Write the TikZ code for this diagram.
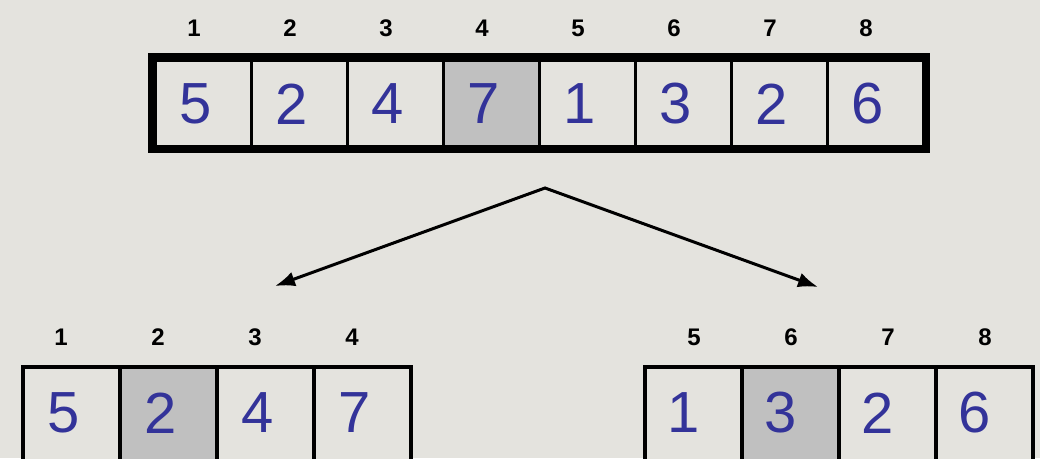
\documentclass[tikz,border=0pt]{standalone}
\usepackage{fontspec}
\setmainfont{Liberation Sans}
\usetikzlibrary{arrows.meta}
\definecolor{paper}{RGB}{228,227,222}
\definecolor{numblue}{RGB}{51,51,153}
\definecolor{pivot}{RGB}{192,192,192}
\begin{document}
\begin{tikzpicture}[x=1pt, y=-1pt,
    cell/.style={draw, inner sep=0pt, outer sep=0pt},
    val/.style={text=numblue, font=\fontsize{58}{58}\selectfont},
    idx/.style={font=\bfseries\fontsize{24}{24}\selectfont},
    split/.style={line width=3pt, {Latex[length=20pt,width=15pt]}-{Latex[length=20pt,width=15pt]}}]
      \useasboundingbox[fill=paper] (0,0) rectangle (1040,458);
      \clip (0,0) rectangle (1040,458);

      % whole array
      \foreach \v/\f [count=\i] in {5/paper,2/paper,4/paper,7/pivot,1/paper,3/paper,2/paper,6/paper} {
          \node[cell, fill=\f, line width=3pt, minimum width=96pt, minimum height=86pt] (t\i) at (107+96*\i,103) {};
          \node[val] (tv\i) at (100+96*\i,104) {\v};
          \node[idx] (ti\i) at (98+96*\i,28) {\i};
        }
      \draw[line width=7pt] ([shift={(-3.5,-3.5)}]t1.north west) rectangle ([shift={(3.5,3.5)}]t8.south east);

      % left half
      \foreach \v/\f [count=\i] in {5/paper,2/pivot,4/paper,7/paper} {
          \node[cell, fill=\f, line width=4pt, minimum width=97pt, minimum height=100pt] (l\i) at (-25.5+97*\i,417) {};
          \node[val] (lv\i) at (-33.5+97*\i,413) {\v};
          \node[idx] (li\i) at (-36+97*\i,337) {\i};
        }

      % right half
      \foreach \v/\f [count=\i, evaluate=\i as \n using int(\i+4)] in {1/paper,3/pivot,2/paper,6/paper} {
          \node[cell, fill=\f, line width=4pt, minimum width=97pt, minimum height=100pt] (r\i) at (596.5+97*\i,417) {};
          \node[val] (rv\i) at (586.5+97*\i,413) {\v};
          \node[idx] (ri\i) at (597+97*\i,337) {\n};
        }

      \coordinate (apex) at (545,188);
      \coordinate (ltip) at (275,286);
      \coordinate (rtip) at (818,287);
      \draw[split] (ltip) -- (apex) -- (rtip);
    \end{tikzpicture}
\end{document}
